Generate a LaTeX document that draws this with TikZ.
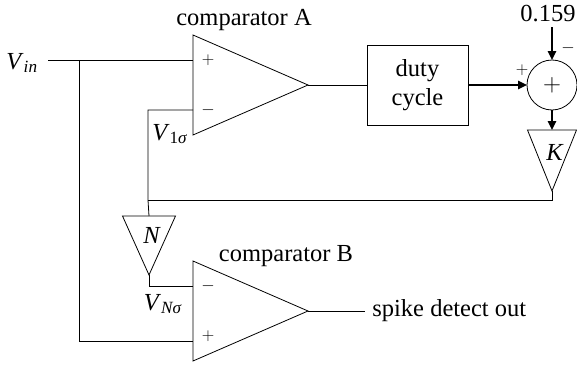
\documentclass[tikz,border=0pt]{standalone}
\usepackage{fontspec}
\setmainfont{Liberation Serif}
\usetikzlibrary{shapes.geometric,arrows.meta}
\newcommand{\Vlabel}[1]{\textit{V}\textsubscript{#1}}
\begin{document}
\begin{tikzpicture}[x=1pt,y=-1pt,
		line width=0.8pt,
		every node/.style={font=\fontsize{24.5}{29}\selectfont},
		comparator/.style={isosceles triangle,isosceles triangle stretches,draw,inner sep=0pt,outer sep=0pt,
		minimum width=100pt,minimum height=115pt},
		gain/.style={isosceles triangle,isosceles triangle stretches,shape border rotate=-90,draw,inner sep=0pt,outer sep=0pt},
		dutybox/.style={rectangle,draw,minimum width=101pt,minimum height=80pt,align=center,inner sep=0pt,outer sep=0pt},
		sumcircle/.style={circle,draw,minimum size=50pt,inner sep=0pt,outer sep=0pt},
		sign/.style={inner sep=0pt,font=\fontsize{17}{17}\selectfont},
		thickarrow/.style={line width=1.6pt,-{Triangle[length=9pt,width=8.5pt]}}
		]
		\useasboundingbox (0,0) rectangle (577,364);
		% comparators
		\node[comparator,anchor=apex](compA) at (308,85){};
		\node[comparator,anchor=apex](compB) at (308,311){};
		\node[inner sep=0pt](compAtext) at (244,20){comparator A};
		\node[inner sep=0pt](compBtext) at (286,256){comparator B};
		\coordinate (compAplus) at (193,60);
		\coordinate (compAminus) at (193,110);
		\coordinate (compBminus) at (193,286);
		\coordinate (compBplus) at (193,341);
		\node[sign](plusA) at (208,60){$+$};
		\node[sign](minusA) at (208,110){$-$};
		\node[sign](minusB) at (208,286){$-$};
		\node[sign](plusB) at (208,336){$+$};
		% feedback loop
		\node[dutybox](duty) at (417.5,85){duty\\cycle};
		\node[sumcircle](sum) at (552,85){};
		\node[inner sep=0pt,font=\fontsize{34}{34}\selectfont](sumplus) at (552,85){$+$};
		\node[gain,anchor=apex,minimum width=49pt,minimum height=61pt](kgain) at (552,191){};
		\node[inner sep=0pt](ktext) at (555,152){\textit{K}};
		\node[gain,anchor=apex,minimum width=53pt,minimum height=59pt](ngain) at (149,275){};
		\node[inner sep=0pt](ntext) at (152,235){\textit{N}};
		% labels
		\node[inner sep=0pt](vin) at (22,63){\Vlabel{\textit{in}}};
		\node[inner sep=0pt](vone) at (170,134){\Vlabel{1\textit{σ}}};
		\node[inner sep=0pt](vn) at (163,304){\Vlabel{\textit{Nσ}}};
		\node[inner sep=0pt](ref) at (548,14){0.159};
		\node[sign](plussum) at (522,70){$+$};
		\node[sign](minussum) at (568,48){$-$};
		\node[inner sep=0pt,anchor=west](spike) at (372,311){spike detect out};
		\coordinate (vinstart) at (48,60);
		\coordinate (vinjoin) at (79,60);
		\coordinate (refstart) at (552,27);
		\coordinate (spikeend) at (365,311);
		\coordinate (loopcorner) at (552,200);
		\coordinate (loopjoin) at (148,200);
		\coordinate (aminuscorner) at (148,110);
		\coordinate (bminuscorner) at (149,286);
		\coordinate (bpluscorner) at (79,341);
		% connectors
		\draw (vinstart) -- (compAplus);
		\draw (vinjoin) -- (bpluscorner) -- (compBplus);
		\draw (compAminus) -- (aminuscorner) -- (loopjoin) -- (ngain.lower side);
		\draw (compA.apex) -- (duty.west);
		\draw[thickarrow] (duty.east) -- (sum.west);
		\draw[thickarrow] (refstart) -- (sum.north);
		\draw[thickarrow] (sum.south) -- (kgain.lower side);
		\draw (kgain.apex) -- (loopcorner) -- (loopjoin);
		\draw (ngain.apex) -- (bminuscorner) -- (compBminus);
		\draw (compB.apex) -- (spikeend);
	\end{tikzpicture}
\end{document}
